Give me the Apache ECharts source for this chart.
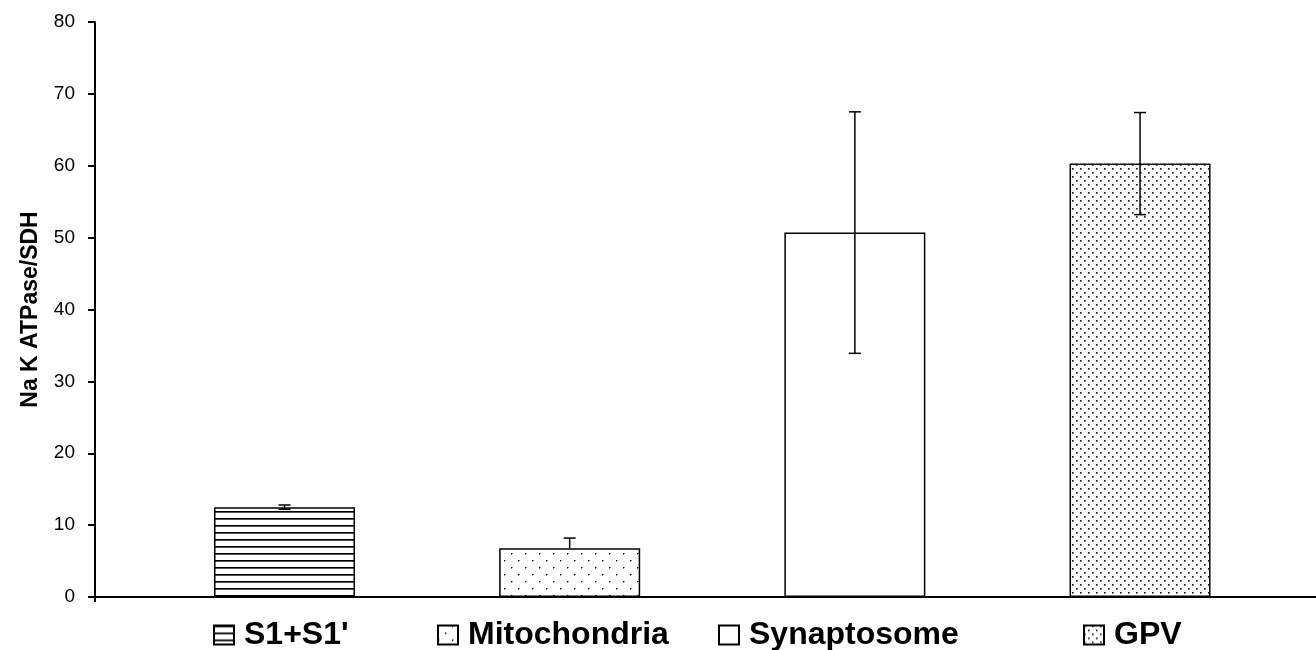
<!DOCTYPE html>
<html>
<head>
<meta charset="utf-8">
<script src="https://cdn.jsdelivr.net/npm/echarts@6/dist/echarts.min.js"></script>
<style>
  html, body { margin: 0; padding: 0; background: #fff; }
  #chart { width: 1316px; height: 650px; }
</style>
</head>
<body>
<div id="chart"></div>
<script>
// Subcellular fractions and their Na/K ATPase : SDH ratio (mean, error up, error down)
const fractions = ["S1+S1'", 'Mitochondria', 'Synaptosome', 'GPV'];
const slots = [1, 2, 3, 4];
const ratio = [12.5, 6.8, 50.7, 60.3];
const errUp = [0.3, 1.4, 16.8, 7.1];
const errDown = [0.3, 0, 16.8, 7.1];

// value axis range and step
const yMin = 0;
const yMax = 80;
const yStep = 10;

// legend item left edges (px)
const legendLeft = [213, 437, 718, 1083];

const FONT = "'Liberation Sans', Arial, sans-serif";

// monochrome fill patterns built on small tiles
function tile(w, h, draw) {
  const c = document.createElement('canvas');
  c.width = w; c.height = h;
  const g = c.getContext('2d');
  g.fillStyle = '#fff';
  g.fillRect(0, 0, w, h);
  draw(g);
  return { image: c, repeat: 'repeat' };
}
const fills = [
  // horizontal hatching
  tile(8, 7, g => { g.fillStyle = '#000'; g.fillRect(0, 0, 8, 1); g.fillStyle = '#555'; g.fillRect(0, 1, 8, 1); }),
  // sparse dots
  tile(14, 14, g => {
    g.fillStyle = '#000'; g.fillRect(0, 0, 1, 1); g.fillRect(7, 7, 1, 1);
    g.fillStyle = '#888'; g.fillRect(1, 0, 1, 1); g.fillRect(0, 1, 1, 1); g.fillRect(8, 7, 1, 1); g.fillRect(7, 8, 1, 1);
  }),
  // plain white
  '#fff',
  // dense dots
  tile(8, 8, g => {
    g.fillStyle = '#222'; g.fillRect(0, 0, 1, 1); g.fillRect(4, 4, 1, 1);
    g.fillStyle = '#666'; g.fillRect(1, 0, 1, 1); g.fillRect(0, 1, 1, 1); g.fillRect(5, 4, 1, 1); g.fillRect(4, 5, 1, 1);
    g.fillStyle = '#aaa'; g.fillRect(1, 1, 1, 1); g.fillRect(5, 5, 1, 1);
  })
];

const barSeries = fractions.map((name, i) => ({
  name: name,
  type: 'bar',
  barWidth: 141,
  barGap: '-100%',
  data: [[slots[i], ratio[i]]],
  itemStyle: { color: fills[i], borderColor: '#000', borderWidth: 1.5 },
  emphasis: { disabled: true },
  z: 2
}));

const errorSeries = {
  type: 'custom',
  name: 'error',
  data: slots.map((s, i) => [s, ratio[i], errUp[i], errDown[i]]),
  encode: { x: 0, y: 1 },
  z: 5,
  silent: true,
  renderItem: function (params, api) {
    const x = api.value(0), v = api.value(1), up = api.value(2), dn = api.value(3);
    const top = api.coord([x, v + up]);
    const bot = api.coord([x, v - dn]);
    const half = 6;
    const st = { stroke: '#000', lineWidth: 1.5 };
    const children = [{ type: 'line', shape: { x1: top[0], y1: top[1], x2: bot[0], y2: bot[1] }, style: st }];
    if (up > 0) children.push({ type: 'line', shape: { x1: top[0] - half, y1: top[1], x2: top[0] + half, y2: top[1] }, style: st });
    if (dn > 0) children.push({ type: 'line', shape: { x1: bot[0] - half, y1: bot[1], x2: bot[0] + half, y2: bot[1] }, style: st });
    return { type: 'group', children: children };
  }
};

const legends = fractions.map((name, i) => ({
  data: [name],
  left: legendLeft[i],
  top: 619,
  padding: 0,
  itemWidth: 20,
  itemHeight: 19,
  icon: 'rect',
  selectedMode: false,
  textStyle: { fontFamily: FONT, fontSize: 32, fontWeight: 'bold', color: '#000', padding: [0, 0, 0, 5] }
}));

const chart = echarts.init(document.getElementById('chart'), null, { renderer: 'canvas' });
chart.setOption({
  animation: false,
  backgroundColor: '#fff',
  grid: { left: 95, right: 0, top: 22, bottom: 53, containLabel: false },
  legend: legends,
  xAxis: {
    type: 'value',
    min: 0.3355,
    max: 4.617,
    axisLine: { show: true, onZero: false, lineStyle: { color: '#000', width: 2 } },
    axisTick: { show: true, customValues: [0.3355], length: 5, lineStyle: { color: '#000', width: 2 } },
    axisLabel: { show: false },
    splitLine: { show: false }
  },
  yAxis: {
    type: 'value',
    min: yMin,
    max: yMax,
    interval: yStep,
    name: 'Na K ATPase/SDH',
    nameLocation: 'middle',
    nameGap: 53,
    nameRotate: 90,
    nameTextStyle: { fontFamily: FONT, fontSize: 23, fontWeight: 'bold', color: '#000' },
    axisLine: { show: true, onZero: false, lineStyle: { color: '#000', width: 2 } },
    axisTick: { show: true, length: 7, lineStyle: { color: '#000', width: 2 } },
    axisLabel: { fontFamily: FONT, fontSize: 19, color: '#000', margin: 20 },
    splitLine: { show: false }
  },
  series: barSeries.concat([errorSeries])
});
</script>
</body>
</html>
